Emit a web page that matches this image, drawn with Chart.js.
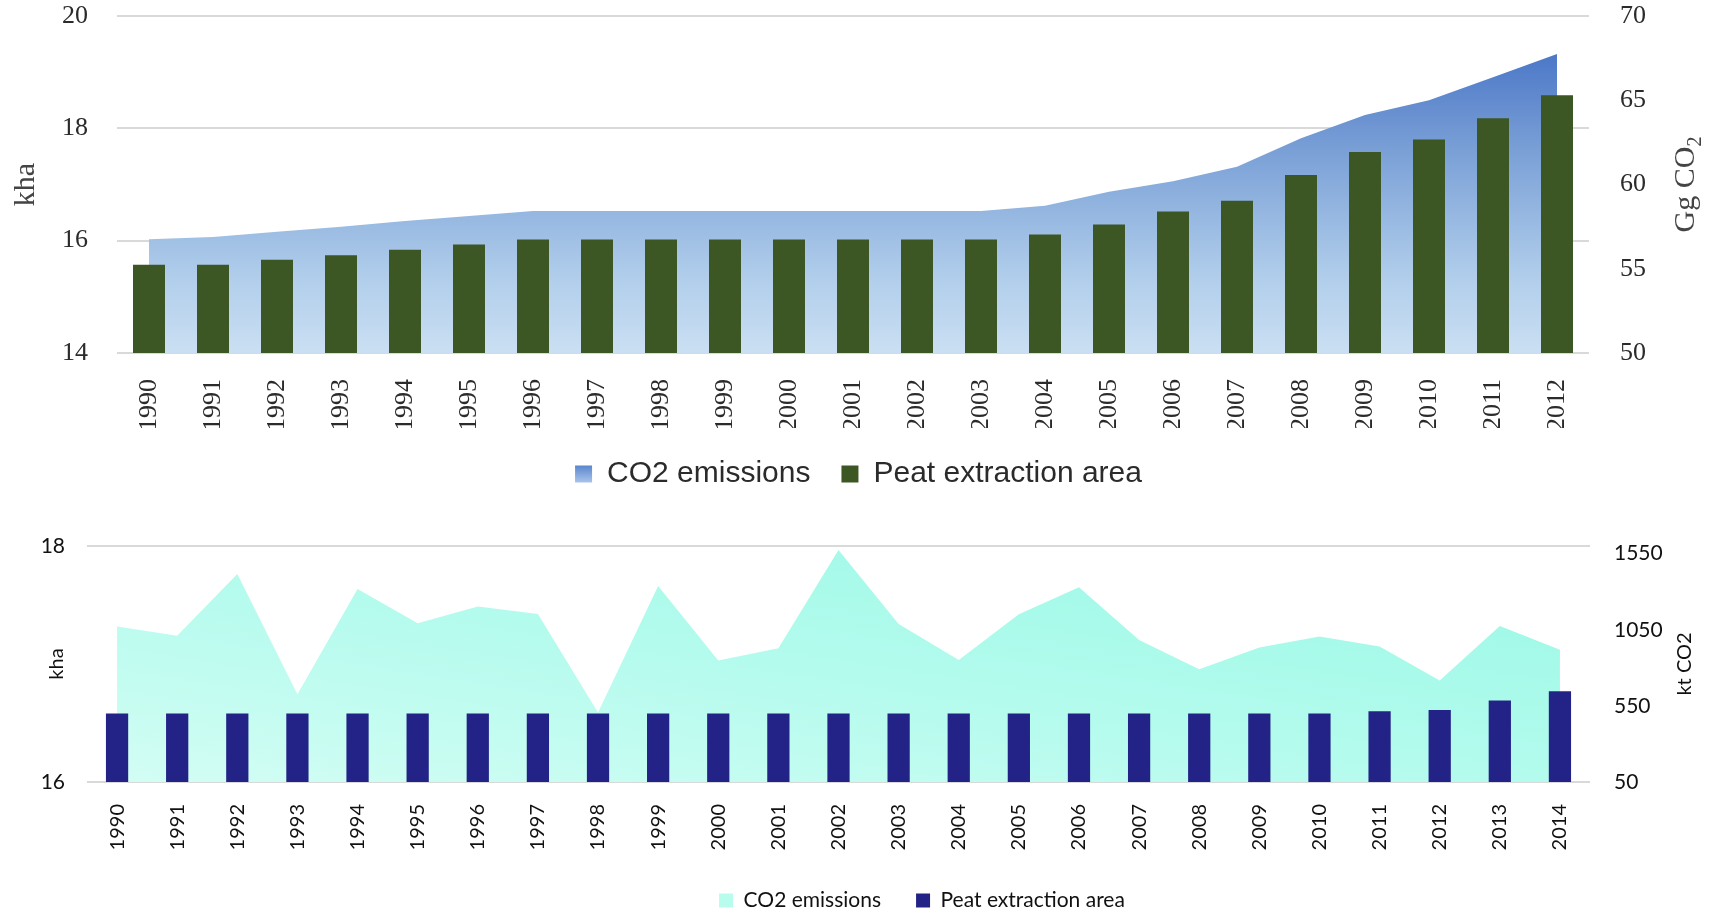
<!DOCTYPE html>
<html>
<head>
<meta charset="utf-8">
<title>Peat extraction area and CO2 emissions</title>
<script src="https://cdn.jsdelivr.net/npm/chart.js@4.4.1/dist/chart.umd.min.js"></script>
<style>
  html, body { margin: 0; padding: 0; background: #fff; overflow: hidden; }
  #page { position: relative; width: 1717px; height: 911px; overflow: hidden; background: #fff; }
  #chartTop { position: absolute; left: 0; top: 0; }
  #chartBottom { position: absolute; left: 0; top: 500px; }
</style>
</head>
<body>
<div id="page">
  <canvas id="chartTop" width="1717" height="499"></canvas>
  <canvas id="chartBottom" width="1844" height="421"></canvas>
</div>
<script>
// top panel (1990-2012)
const yearsTop = ['1990','1991','1992','1993','1994','1995','1996','1997','1998','1999','2000',
  '2001','2002','2003','2004','2005','2006','2007','2008','2009','2010','2011','2012'];
const peatTop = [15.57, 15.57, 15.66, 15.74, 15.84, 15.93, 16.02, 16.02, 16.02, 16.02, 16.02,
  16.02, 16.02, 16.02, 16.11, 16.29, 16.52, 16.71, 17.17, 17.58, 17.80, 18.18, 18.59]; // kha
const co2Top = [56.75, 56.88, 57.2, 57.5, 57.83, 58.13, 58.43, 58.43, 58.43, 58.43, 58.43,
  58.43, 58.43, 58.43, 58.74, 59.57, 60.2, 61.06, 62.74, 64.12, 65.0, 66.36, 67.74]; // Gg CO2

// bottom panel (1990-2014)
const yearsBottom = ['1990','1991','1992','1993','1994','1995','1996','1997','1998','1999','2000',
  '2001','2002','2003','2004','2005','2006','2007','2008','2009','2010','2011','2012','2013','2014'];
const peatBottom = [16.58, 16.58, 16.58, 16.58, 16.58, 16.58, 16.58, 16.58, 16.58, 16.58, 16.58,
  16.58, 16.58, 16.58, 16.58, 16.58, 16.58, 16.58, 16.58, 16.58, 16.58, 16.60, 16.61, 16.69, 16.77]; // kha
const co2Bottom = [1071, 1010, 1416, 627, 1318, 1093, 1202, 1154, 507, 1338, 848,
  929, 1574, 1088, 852, 1152, 1329, 983, 791, 933, 1005, 940, 717, 1075, 918]; // kt CO2
const rightTicksBottom = [50, 550, 1050, 1550];

const serif = "'Liberation Serif', 'Times New Roman', serif";
const sans = "'Liberation Sans', Arial, sans-serif";
const calib = "Lato, 'Noto Sans', sans-serif";

// right axis title, drawn bottom-to-top like the left one
const rightTitle = {
  id: 'rightTitle',
  afterDraw(chart, args, opts) {
    if (!opts || !opts.text) return;
    const s = chart.scales.y2;
    const ctx = chart.ctx;
    const cx = s.left + opts.offset;
    const cy = (chart.chartArea.top + chart.chartArea.bottom) / 2;
    const subSize = Math.round(opts.size * 0.65);
    ctx.save();
    ctx.translate(cx, cy);
    ctx.rotate(-Math.PI / 2);
    ctx.fillStyle = opts.color;
    ctx.textBaseline = 'middle';
    ctx.textAlign = 'left';
    ctx.font = opts.size + 'px ' + opts.family;
    const w1 = ctx.measureText(opts.text).width;
    let w2 = 0;
    if (opts.sub) {
      ctx.font = subSize + 'px ' + opts.family;
      w2 = ctx.measureText(opts.sub).width;
    }
    const x0 = -(w1 + w2) / 2;
    ctx.font = opts.size + 'px ' + opts.family;
    ctx.fillText(opts.text, x0, 0);
    if (opts.sub) {
      ctx.font = subSize + 'px ' + opts.family;
      ctx.fillText(opts.sub, x0 + w1, opts.size * 0.32);
    }
    ctx.restore();
  }
};

function blueFill(context) {
  const a = context.chart.chartArea;
  if (!a) return '#8aabdd';
  const g = context.chart.ctx.createLinearGradient(0, a.top, 0, a.bottom);
  g.addColorStop(0, '#4170c3');
  g.addColorStop(0.11, '#4b77c7');
  g.addColorStop(0.34, '#7198d3');
  g.addColorStop(0.58, '#94b6e0');
  g.addColorStop(0.8, '#b4d0ec');
  g.addColorStop(1, '#cadff2');
  return g;
}

function mintFill(context) {
  const a = context.chart.chartArea;
  if (!a) return '#b5fbee';
  const W = a.right - a.left, H = a.bottom - a.top;
  const dx = 2 * W * H * H / (W * W + H * H);
  const dy = 2 * W * W * H / (W * W + H * H);
  const g = context.chart.ctx.createLinearGradient(a.left, a.bottom, a.left + dx, a.bottom - dy);
  g.addColorStop(0, '#d3fdf4');
  g.addColorStop(0.5, '#b2fbed');
  g.addColorStop(1, '#98f8e4');
  return g;
}

const byIndex = (a, b) => a.datasetIndex - b.datasetIndex;

// top chart
new Chart(document.getElementById('chartTop'), {
  type: 'bar',
  data: {
    labels: yearsTop,
    datasets: [
      {
        type: 'line', label: 'CO2 emissions', data: co2Top, yAxisID: 'y2', order: 2,
        fill: 'start', backgroundColor: blueFill, borderWidth: 0, pointRadius: 0, tension: 0
      },
      {
        label: 'Peat extraction area', data: peatTop, yAxisID: 'y', order: 1,
        backgroundColor: '#3c5624', borderWidth: 0, categoryPercentage: 1, barPercentage: 0.5
      }
    ]
  },
  options: {
    responsive: false,
    animation: false,
    layout: { padding: { top: 16, left: 0, right: 0, bottom: 0 } },
    scales: {
      x: {
        grid: { display: false }, border: { display: false },
        ticks: { autoSkip: false, minRotation: 90, maxRotation: 90, padding: 18, color: '#2b2b2b',
          font: { family: serif, size: 26 } },
        afterFit: s => { s.height = 75; }
      },
      y: {
        position: 'left', min: 14, max: 20,
        grid: { color: '#d9d9d9', lineWidth: 2, drawTicks: true, tickLength: 29, tickColor: 'rgba(0,0,0,0)' },
        border: { display: false },
        ticks: { stepSize: 2, padding: 0, color: '#2b2b2b', font: { family: serif, size: 26 } },
        title: { display: true, text: 'kha', color: '#444', padding: { top: 8, bottom: 0 },
          font: { family: serif, size: 30 } },
        afterFit: s => { s.width = 117; }
      },
      y2: {
        position: 'right', min: 50, max: 70,
        grid: { display: true, drawOnChartArea: false, drawTicks: true, tickLength: 31, tickColor: 'rgba(0,0,0,0)' },
        border: { display: false },
        ticks: { stepSize: 5, padding: 0, color: '#2b2b2b', font: { family: serif, size: 26 } },
        afterFit: s => { s.width = 128; }
      }
    },
    plugins: {
      tooltip: { enabled: false },
      rightTitle: { text: 'Gg CO', sub: '2', offset: 97, size: 30, family: serif, color: '#444' },
      legend: {
        position: 'bottom',
        labels: {
          color: '#2b2b2b', boxWidth: 17, boxHeight: 17, padding: 31,
          font: { family: sans, size: 30 },
          sort: byIndex,
          generateLabels(chart) {
            const items = Chart.defaults.plugins.legend.labels.generateLabels(chart);
            const lg = chart.legend;
            const co2 = items.find(it => it.datasetIndex === 0);
            if (lg && lg.top) {
              const y0 = lg.top + 31 + (30 - 17) / 2;
              const g = chart.ctx.createLinearGradient(0, y0, 0, y0 + 17);
              g.addColorStop(0, '#5a86ce');
              g.addColorStop(1, '#a9c4ea');
              co2.fillStyle = g;
            } else {
              co2.fillStyle = '#7fa2db';
            }
            return items;
          }
        }
      }
    }
  },
  plugins: [rightTitle]
});

// bottom chart
new Chart(document.getElementById('chartBottom'), {
  type: 'bar',
  data: {
    labels: yearsBottom,
    datasets: [
      {
        type: 'line', label: 'CO2 emissions', data: co2Bottom, yAxisID: 'y2', order: 2,
        fill: 'start', backgroundColor: mintFill, borderWidth: 0, pointRadius: 0, tension: 0
      },
      {
        label: 'Peat extraction area', data: peatBottom, yAxisID: 'y', order: 1,
        backgroundColor: '#232387', borderWidth: 0, categoryPercentage: 1, barPercentage: 0.37
      }
    ]
  },
  options: {
    responsive: false,
    animation: false,
    layout: { padding: { top: 46, left: 0, right: 0, bottom: 0 } },
    scales: {
      x: {
        grid: { display: false }, border: { display: false },
        ticks: { autoSkip: false, minRotation: 90, maxRotation: 90, padding: 14, color: '#111',
          font: { family: calib, size: 20 } },
        afterFit: s => { s.height = 73; }
      },
      y: {
        position: 'left', min: 16, max: 18,
        grid: { color: '#d9d9d9', lineWidth: 2, drawTicks: false }, border: { display: false },
        ticks: { stepSize: 2, padding: 22, color: '#111', font: { family: calib, size: 21 } },
        title: { display: true, text: 'kha', color: '#111', padding: { top: 45, bottom: 0 },
          font: { family: calib, size: 20 } },
        afterFit: s => { s.width = 87; }
      },
      y2: {
        position: 'right', min: 50, max: 1600,
        grid: { display: false, drawTicks: false }, border: { display: false },
        afterBuildTicks: s => { s.ticks = rightTicksBottom.map(v => ({ value: v })); },
        ticks: { padding: 24, color: '#111', font: { family: calib, size: 21 }, callback: v => String(v) },
        afterFit: s => { s.width = 254; }
      }
    },
    plugins: {
      tooltip: { enabled: false },
      rightTitle: { text: 'kt CO2', offset: 95, size: 20, family: calib, color: '#111' },
      legend: {
        position: 'bottom',
        labels: {
          color: '#111', boxWidth: 14, boxHeight: 14, padding: 35,
          font: { family: calib, size: 21 },
          sort: byIndex,
          generateLabels(chart) {
            const items = Chart.defaults.plugins.legend.labels.generateLabels(chart);
            items.find(it => it.datasetIndex === 0).fillStyle = '#b8fcee';
            return items;
          }
        }
      }
    }
  },
  plugins: [rightTitle]
});
</script>
</body>
</html>
